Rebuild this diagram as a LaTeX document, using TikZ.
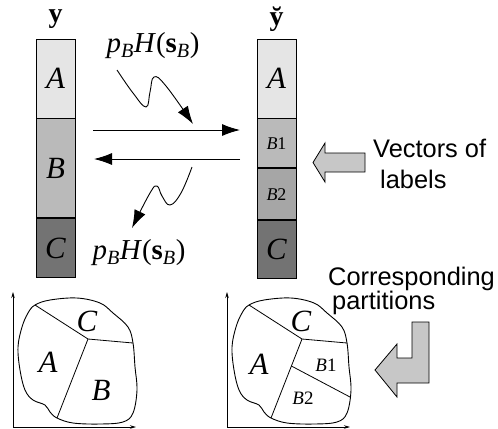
\documentclass[tikz,border=0pt]{standalone}
\usepackage{fontspec}
\setmainfont{Liberation Serif}
\setsansfont{Liberation Sans}
\usetikzlibrary{arrows.meta, positioning}

\newcommand{\pBH}{\textit{p}\textsubscript{\textit{B}}\textit{H}(\textbf{s}\textsubscript{\textit{B}})}

\begin{document}
\begin{tikzpicture}[
    x=1bp, y=-1bp,
    cell/.style={rectangle, draw, line width=0.8bp, minimum width=39bp, inner sep=0pt,
        font=\fontsize{31}{31}\selectfont\itshape},
    smallcell/.style={cell, font=\fontsize{18}{18}\selectfont},
    veclabel/.style={font=\fontsize{28}{28}\selectfont\bfseries},
    mathlabel/.style={font=\fontsize{29}{29}\selectfont, inner sep=0pt},
    sanslabel/.style={font=\fontsize{25.5}{25.5}\selectfont\sffamily, inner sep=0pt, anchor=base west},
    arr/.style={-{Latex[length=18bp, width=12bp]}, line width=0.9bp},
    blockarrow/.style={draw, fill=black!22, line width=0.8bp, line join=miter},
    axis/.style={-{Stealth[length=6bp, width=3.5bp]}, line width=0.8bp},
    region/.style={font=\fontsize{31}{31}\selectfont\itshape, inner sep=0pt},
    smallregion/.style={font=\fontsize{19}{19}\selectfont, inner sep=0pt}
]
\useasboundingbox (0,0) rectangle (498,428);

% Vettore y
\node[veclabel] (ylab) at (55.5,19) {y};
\node[cell, fill=black!10, minimum height=79bp] (yA) at (55.5,78.5) {A};
\node[cell, fill=black!27, minimum height=99bp, below=0pt of yA] (yB) {B};
\node[cell, fill=black!55, minimum height=59bp, below=0pt of yB] (yC) {C};

% Vettore y breve
\node[veclabel] (yblab) at (276.5,19) {\u{y}};
\node[cell, fill=black!10, minimum height=79bp] (ybA) at (276.5,78.5) {A};
\node[smallcell, fill=black!27, minimum height=49bp, below=0pt of ybA] (ybB1) {\textit{B}1};
\node[smallcell, fill=black!35, minimum height=51bp, below=0pt of ybB1] (ybB2) {\textit{B}2};
\node[cell, fill=black!55, minimum height=58bp, below=0pt of ybB2] (ybC) {C};

% Frecce orizzontali
\coordinate (fwdL) at (93,130);
\coordinate (fwdR) at (240,130);
\coordinate (bwdR) at (240,159);
\coordinate (bwdL) at (94,159);
\draw[arr] (fwdL) -- (fwdR);
\draw[arr] (bwdR) -- (bwdL);

% Etichette p_B H(s_B)
\node[mathlabel] (pbtop) at (153,46) {\pBH};
\node[mathlabel] (pbbot) at (139,253) {\pBH};

\draw[arr] plot[smooth, tension=0.7] coordinates {(117,70) (133,93) (146,107) (150,92) (154,77) (166,86) (193,124)};
\draw[arr] plot[smooth, tension=0.7] coordinates {(192,167) (181,193) (170,205) (162,196) (157,186) (150,193) (132,228)};

% Frecce a blocco
\draw[blockarrow] (365,153) -- (325,153) -- (325,143) -- (313,162.5) -- (325,182) -- (325,172) -- (365,172) -- cycle;
\draw[blockarrow] (412,322) -- (429,322) -- (429,383) -- (397,383) -- (397,397) -- (375,370)
    -- (397,344) -- (397,358) -- (412,358) -- cycle;

\node[sanslabel] (vec1) at (373,157) {Vectors of};
\node[sanslabel] (vec2) at (380,188) {labels};
\node[sanslabel] (corr1) at (328,285) {Corresponding};
\node[sanslabel] (corr2) at (332,309) {partitions};

% Partizioni
\foreach \dx/\nm in {0/L, 214/R} {
  \begin{scope}[xshift=\dx bp]
    \coordinate (o\nm) at (13,427);
    \coordinate (yax\nm) at (13,292);
    \coordinate (xax\nm) at (136,427);
    \draw[axis] (o\nm) -- (yax\nm);
    \draw[axis] (o\nm) -- (xax\nm);
    \draw[line width=0.9bp] plot[smooth cycle, tension=0.6] coordinates {
      (35,305) (50,300) (77,298) (100,303) (113,313) (128,327) (133,343) (135,367)
      (137,390) (133,413) (123,422) (100,424) (73,423) (57,418) (50,412) (45,405)
      (33,400) (25,390) (20,370) (18,347) (22,327) (28,313)};
    \coordinate (tl\nm) at (35,305);
    \coordinate (mid\nm) at (88,339);
    \coordinate (re\nm) at (133,343);
    \coordinate (bt\nm) at (57,418);
    \draw[line width=0.8bp] (tl\nm) -- (mid\nm) -- (re\nm);
    \draw[line width=0.8bp] (mid\nm) -- (bt\nm);
  \end{scope}
}

\coordinate (cutR) at (291.4,366);
\coordinate (cutE) at (350,397);
\draw[line width=0.8bp] (cutR) -- (cutE);

\node[region] (pA) at (48,362) {A};
\node[region] (pB) at (101,390) {B};
\node[region] (pC) at (87,321) {C};
\node[region] (qA) at (259,364) {A};
\node[region] (qC) at (301,321) {C};
\node[smallregion] (qB1) at (326,365) {\textit{B}1};
\node[smallregion] (qB2) at (303,398) {\textit{B}2};

\end{tikzpicture}
\end{document}
